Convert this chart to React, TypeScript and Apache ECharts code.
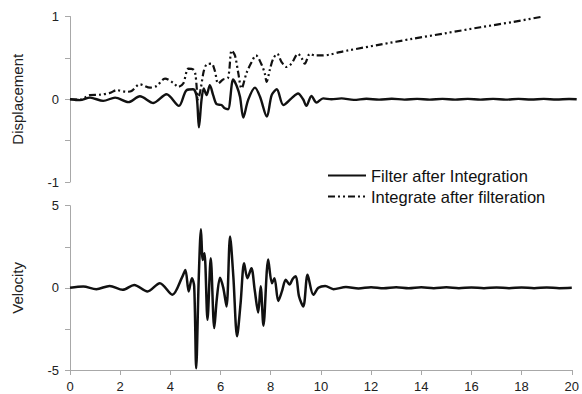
import React, { useEffect, useRef } from "react";
import * as echarts from "echarts";

// Top panel: displacement, "Filter after Integration"
const dispFilterT = [0, 0.39, 0.79, 1.31, 1.78, 2.3, 2.76, 3.29, 3.81, 4.3, 4.6, 4.86, 5.0, 5.09, 5.19, 5.28, 5.39, 5.52, 5.65, 5.79, 5.98, 6.11, 6.24, 6.44, 6.58, 6.71, 6.84, 7.03, 7.3, 7.5, 7.77, 7.96, 8.16, 8.42, 8.74, 9.0, 9.2, 9.33, 9.53, 9.73, 9.99, 10.32, 10.72, 11.2, 11.7, 12.2, 12.7, 13.2, 13.7, 14.2, 14.7, 15.2, 15.7, 16.2, 16.7, 17.2, 17.7, 18.2, 18.7, 19.2, 19.7, 20];
const dispFilterV = [0, -0.01, 0.02, -0.02, 0.02, -0.035, 0.036, -0.045, 0.06, -0.08, 0.11, 0.12, 0.03, -0.34, -0.01, 0.13, 0.05, 0.17, 0.05, -0.06, -0.07, -0.11, -0.12, 0.24, 0.16, 0.03, -0.22, -0.01, 0.14, 0.03, -0.21, 0.05, 0.12, -0.07, 0.01, 0.07, 0.0, -0.08, 0.04, -0.04, 0.01, 0.0, 0.01, -0.008, 0.006, -0.005, 0.006, -0.004, 0.005, -0.005, 0.004, -0.004, 0.005, -0.004, 0.004, -0.004, 0.004, -0.003, 0.004, -0.003, 0.003, 0];

// Top panel: displacement, "Integrate after filteration"
const dispIntegrateT = [0, 0.39, 0.79, 1.18, 1.58, 1.84, 2.23, 2.43, 2.76, 3.16, 3.42, 3.75, 4.07, 4.27, 4.47, 4.67, 4.86, 4.95, 5.06, 5.15, 5.28, 5.39, 5.59, 5.72, 5.85, 6.05, 6.24, 6.38, 6.51, 6.64, 6.77, 6.97, 7.17, 7.34, 7.56, 7.69, 7.76, 7.89, 8.02, 8.18, 8.35, 8.55, 8.74, 9.0, 9.14, 9.27, 9.47, 9.66, 9.93, 10.26, 10.65, 10.98, 12.23, 13.5, 14.86, 16.2, 17.5, 18.67];
const dispIntegrateV = [0, -0.005, 0.05, 0.055, 0.077, 0.11, 0.09, 0.1, 0.18, 0.14, 0.16, 0.25, 0.2, 0.15, 0.19, 0.37, 0.36, 0.3, 0.0, 0.11, 0.34, 0.42, 0.43, 0.34, 0.19, 0.24, 0.26, 0.59, 0.53, 0.32, 0.13, 0.32, 0.45, 0.53, 0.42, 0.31, 0.21, 0.36, 0.49, 0.55, 0.45, 0.39, 0.43, 0.55, 0.5, 0.43, 0.55, 0.53, 0.53, 0.54, 0.57, 0.59, 0.66, 0.73, 0.8, 0.87, 0.935, 1.0];

// Bottom panel: velocity
const velT = [0, 0.53, 1.05, 1.58, 2.1, 2.56, 3.09, 3.58, 4.08, 4.47, 4.6, 4.73, 4.86, 4.95, 5.03, 5.13, 5.22, 5.29, 5.36, 5.48, 5.61, 5.75, 5.85, 5.98, 6.11, 6.24, 6.38, 6.51, 6.66, 6.8, 6.94, 7.07, 7.23, 7.36, 7.5, 7.6, 7.71, 7.9, 8.05, 8.15, 8.3, 8.45, 8.6, 8.75, 8.88, 9.0, 9.13, 9.3, 9.47, 9.7, 9.9, 10.17, 10.5, 11.0, 11.5, 12.0, 12.5, 13.0, 13.5, 14.0, 14.5, 15.0, 15.5, 16.0, 16.5, 17.0, 17.5, 18.0, 18.5, 19.0, 19.5, 20];
const velV = [0, 0.08, -0.08, 0.12, -0.12, 0.18, -0.22, 0.28, -0.42, 0.65, 1.09, -0.22, 0.59, 0.1, -4.9, 0.5, 3.56, 1.7, 2.1, -1.94, 1.8, -2.45, -0.7, 0.62, 0, -1.13, 3.13, 0.7, -2.95, -0.93, 1.5, 0.59, 1.19, -0.1, -1.5, 0.1, -2.3, 1.72, 0.28, 0.59, -0.8, -0.2, 0.49, 0.2, 0.55, 0.7, -0.53, -1.13, 0.79, -0.42, 0.0, 0.12, -0.08, 0.05, -0.04, 0.04, -0.03, 0.03, -0.03, 0.03, -0.02, 0.03, -0.02, 0.02, -0.02, 0.02, -0.02, 0.02, -0.02, 0.02, -0.02, 0];

const xTicksMin = 0;
const xTicksMax = 20;

const zip = (t: number[], v: number[]) => t.map((x, i) => [x, v[i]]);

const FONT = "'Liberation Sans', Arial, sans-serif";
const AXIS_GREY = "#a8a8a8";
const INK = "#111";

export default function App() {
  const ref = useRef<HTMLDivElement>(null);
  useEffect(() => {
    if (!ref.current) return;
    const chart = echarts.init(ref.current, undefined, { renderer: "svg" });
    const intLabel = (v: number) => (Number.isInteger(v) ? String(v) : "");
    const yAxisBase = {
      type: "value" as const,
      axisLine: { show: true, lineStyle: { color: AXIS_GREY, width: 1 } },
      axisTick: { show: true, length: 5, lineStyle: { color: AXIS_GREY } },
      splitLine: { show: false },
      axisLabel: { color: "#222", fontSize: 13, fontFamily: FONT, margin: 11, formatter: intLabel },
      nameLocation: "middle" as const,
      nameRotate: 90,
      nameGap: 45,
      nameTextStyle: { color: "#222", fontSize: 15, fontFamily: FONT },
    };
    chart.setOption({
      animation: false,
      backgroundColor: "#fff",
      grid: [
        { left: 70, top: 16.5, width: 506.7, height: 165.5 },
        { left: 70, top: 205.7, width: 506.7, height: 164.3 },
      ],
      xAxis: [
        { type: "value", gridIndex: 0, min: xTicksMin, max: xTicksMax, show: false },
        {
          type: "value",
          gridIndex: 1,
          min: xTicksMin,
          max: xTicksMax,
          interval: 2,
          axisLine: { show: true, onZero: false, lineStyle: { color: AXIS_GREY } },
          axisTick: { show: true, length: 5, lineStyle: { color: AXIS_GREY } },
          splitLine: { show: false },
          axisLabel: { color: "#222", fontSize: 13, fontFamily: FONT, margin: 10, showMaxLabel: true },
        },
      ],
      yAxis: [
        { ...yAxisBase, gridIndex: 0, min: -1, max: 1, interval: 0.5, name: "Displacement" },
        { ...yAxisBase, gridIndex: 1, min: -5, max: 5, interval: 2.5, name: "Velocity" },
      ],
      legend: {
        data: ["Filter after Integration", "Integrate after filteration"],
        orient: "vertical",
        left: 327,
        top: 167,
        padding: 0,
        itemWidth: 38,
        itemHeight: 14,
        itemGap: 4,
        itemStyle: { opacity: 0 },
        textStyle: { color: INK, fontSize: 16.5, fontFamily: FONT },
      },
      series: [
        {
          name: "Filter after Integration",
          type: "line",
          xAxisIndex: 0,
          yAxisIndex: 0,
          data: zip(dispFilterT, dispFilterV),
          showSymbol: false,
          symbol: "none",
          smooth: 0.3,
          lineStyle: { color: INK, width: 2.4 },
          itemStyle: { color: INK },
        },
        {
          name: "Integrate after filteration",
          type: "line",
          xAxisIndex: 0,
          yAxisIndex: 0,
          data: zip(dispIntegrateT, dispIntegrateV),
          showSymbol: false,
          symbol: "none",
          smooth: 0.3,
          lineStyle: { color: INK, width: 2.2, type: [7, 3, 2, 3, 2, 3] },
          itemStyle: { color: INK },
        },
        {
          name: "Velocity",
          type: "line",
          xAxisIndex: 1,
          yAxisIndex: 1,
          data: zip(velT, velV),
          showSymbol: false,
          symbol: "none",
          smooth: 0.3,
          lineStyle: { color: INK, width: 2.5 },
          itemStyle: { color: INK },
        },
      ],
    });
    return () => chart.dispose();
  }, []);
  return (
    <div
      ref={ref}
      style={{ position: "fixed", left: 0, top: 0, width: 582, height: 394, background: "#fff" }}
    />
  );
}
